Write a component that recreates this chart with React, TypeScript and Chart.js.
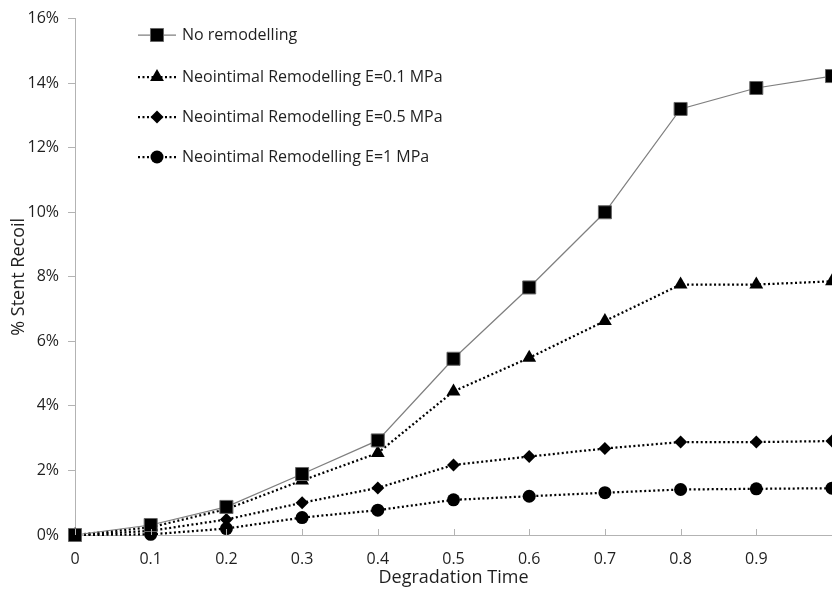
import React, { useEffect, useRef } from "react";
import { Chart, registerables } from "chart.js";

Chart.register(...registerables);

// ---- data ----
const xValues = [0, 0.1, 0.2, 0.3, 0.4, 0.5, 0.6, 0.7, 0.8, 0.9, 1.0];
const xTickLabels = ["0", "0.1", "0.2", "0.3", "0.4", "0.5", "0.6", "0.7", "0.8", "0.9", ""];
const yTickValues = [0, 2, 4, 6, 8, 10, 12, 14, 16];
const seriesLabels = [
  "No remodelling",
  "Neointimal Remodelling E=0.1 MPa",
  "Neointimal Remodelling E=0.5 MPa",
  "Neointimal Remodelling E=1 MPa",
];
const noRemodelling = [0, 0.31, 0.87, 1.89, 2.93, 5.46, 7.67, 10.0, 13.2, 13.85, 14.22];
const remodE01 = [0, 0.24, 0.8, 1.69, 2.54, 4.45, 5.49, 6.63, 7.76, 7.76, 7.86];
const remodE05 = [0, 0.13, 0.48, 1.0, 1.46, 2.17, 2.43, 2.68, 2.88, 2.88, 2.91];
const remodE1 = [0, 0.02, 0.2, 0.54, 0.77, 1.09, 1.2, 1.31, 1.41, 1.43, 1.45];

const FONT = "'Open Sans', 'DejaVu Sans', sans-serif";
const TEXT = "#1f1f1f";
const AXIS = "#b3b3b3";

const toPoints = (ys: number[]) => xValues.map((x, i) => ({ x, y: ys[i] }));

function drawMarker(ctx: CanvasRenderingContext2D, style: string, r: number, x: number, y: number, bw: number) {
  ctx.beginPath();
  if (style === "rect") {
    const s = Math.SQRT1_2 * r;
    ctx.rect(x - s, y - s, 2 * s, 2 * s);
  } else if (style === "triangle") {
    ctx.moveTo(x, y - r);
    ctx.lineTo(x + r * Math.cos(Math.PI / 6), y + r / 2);
    ctx.lineTo(x - r * Math.cos(Math.PI / 6), y + r / 2);
    ctx.closePath();
  } else if (style === "rectRot") {
    ctx.moveTo(x - r, y);
    ctx.lineTo(x, y - r);
    ctx.lineTo(x + r, y);
    ctx.lineTo(x, y + r);
    ctx.closePath();
  } else {
    ctx.arc(x, y, r, 0, Math.PI * 2);
  }
  ctx.fill();
  if (bw > 0) ctx.stroke();
}

const innerTicksPlugin = {
  id: "innerTicks",
  afterDraw(chart: any) {
    const xs = chart.scales.x;
    const { ctx, chartArea } = chart;
    ctx.save();
    ctx.strokeStyle = AXIS;
    ctx.lineWidth = 1;
    xValues.forEach((v) => {
      const px = Math.round(xs.getPixelForValue(v)) + 0.5;
      ctx.beginPath();
      ctx.moveTo(px, chartArea.bottom);
      ctx.lineTo(px, chartArea.bottom - 6);
      ctx.stroke();
    });
    ctx.restore();
  },
};

const legendPlugin = {
  id: "customLegend",
  afterDraw(chart: any) {
    const { ctx } = chart;
    const rowsY = [35, 77, 117, 157];
    const x0 = 138;
    const x1 = 176;
    ctx.save();
    chart.data.datasets.forEach((ds: any, i: number) => {
      const y = rowsY[i];
      ctx.save();
      ctx.strokeStyle = ds.borderColor;
      ctx.lineWidth = ds.borderWidth;
      ctx.setLineDash(ds.borderDash || []);
      ctx.beginPath();
      ctx.moveTo(x0, y);
      ctx.lineTo(x1, y);
      ctx.stroke();
      ctx.restore();
      ctx.save();
      ctx.fillStyle = ds.pointBackgroundColor;
      ctx.strokeStyle = ds.pointBorderColor;
      ctx.lineWidth = ds.pointBorderWidth;
      drawMarker(ctx, ds.pointStyle, ds.pointRadius, (x0 + x1) / 2, y, ds.pointBorderWidth);
      ctx.restore();
      ctx.fillStyle = TEXT;
      ctx.font = `16px ${FONT}`;
      ctx.textBaseline = "middle";
      ctx.textAlign = "left";
      ctx.fillText(ds.label, 182, y);
    });
    ctx.restore();
  },
};

export default function App() {
  const ref = useRef<HTMLCanvasElement | null>(null);

  useEffect(() => {
    if (!ref.current) return;
    Chart.defaults.font.family = FONT;
    const dotted = { borderColor: "#000", borderWidth: 2.25, borderDash: [2, 2.5] };
    const chart = new Chart(ref.current, {
      type: "line",
      data: {
        datasets: [
          {
            label: seriesLabels[0],
            data: toPoints(noRemodelling),
            borderColor: "#7f7f7f",
            borderWidth: 1.25,
            borderDash: [],
            pointStyle: "rect",
            pointRadius: 9.2,
            pointBackgroundColor: "#000",
            pointBorderColor: "#666",
            pointBorderWidth: 1,
            clip: false,
          },
          {
            label: seriesLabels[1],
            data: toPoints(remodE01),
            ...dotted,
            pointStyle: "triangle",
            pointRadius: 8,
            pointBackgroundColor: "#000",
            pointBorderColor: "#000",
            pointBorderWidth: 0,
            clip: false,
          },
          {
            label: seriesLabels[2],
            data: toPoints(remodE05),
            ...dotted,
            pointStyle: "rectRot",
            pointRadius: 6.5,
            pointBackgroundColor: "#000",
            pointBorderColor: "#000",
            pointBorderWidth: 0,
            clip: false,
          },
          {
            label: seriesLabels[3],
            data: toPoints(remodE1),
            ...dotted,
            pointStyle: "circle",
            pointRadius: 6.5,
            pointBackgroundColor: "#000",
            pointBorderColor: "#000",
            pointBorderWidth: 0,
            clip: false,
          },
        ] as any,
      },
      options: {
        animation: false,
        responsive: false,
        maintainAspectRatio: false,
        layout: { padding: { left: 0, right: 28, top: 13, bottom: 0 } },
        plugins: { legend: { display: false }, tooltip: { enabled: false } },
        elements: { line: { tension: 0 } },
        scales: {
          x: {
            type: "linear",
            min: 0,
            max: 1,
            afterBuildTicks: (s: any) => {
              s.ticks = xValues.map((v) => ({ value: v }));
            },
            ticks: {
              color: TEXT,
              font: { size: 16 },
              padding: 15,
              maxRotation: 0,
              autoSkip: false,
              callback: (_v: any, i: number) => xTickLabels[i],
            },
            grid: { display: true, drawOnChartArea: false, drawTicks: false, color: AXIS },
            border: { display: true, color: AXIS, width: 1 },
            title: {
              display: true,
              text: "Degradation Time",
              color: TEXT,
              font: { size: 18 },
              padding: { top: 0, bottom: 0 },
            },
            afterFit: (s: any) => {
              s.height = 54;
            },
          },
          y: {
            type: "linear",
            min: 0,
            max: 16,
            afterBuildTicks: (s: any) => {
              s.ticks = yTickValues.map((v) => ({ value: v }));
            },
            ticks: {
              color: TEXT,
              font: { size: 16 },
              padding: 9,
              callback: (v: any) => `${v}%`,
            },
            grid: { display: true, drawOnChartArea: false, drawTicks: true, tickLength: 7, color: AXIS },
            border: { display: true, color: AXIS, width: 1 },
            title: {
              display: true,
              text: "% Stent Recoil",
              color: TEXT,
              font: { size: 18 },
              padding: { top: 8, bottom: 0 },
            },
            afterFit: (s: any) => {
              s.width = 75;
            },
          },
        },
      } as any,
      plugins: [innerTicksPlugin, legendPlugin],
    });
    return () => chart.destroy();
  }, []);

  return (
    <div
      style={{
        position: "fixed",
        left: 0,
        top: 0,
        width: 832,
        height: 589,
        overflow: "hidden",
        background: "#fff",
      }}
    >
      <canvas ref={ref} width={860} height={589} style={{ display: "block", width: 860, height: 589 }} />
    </div>
  );
}
